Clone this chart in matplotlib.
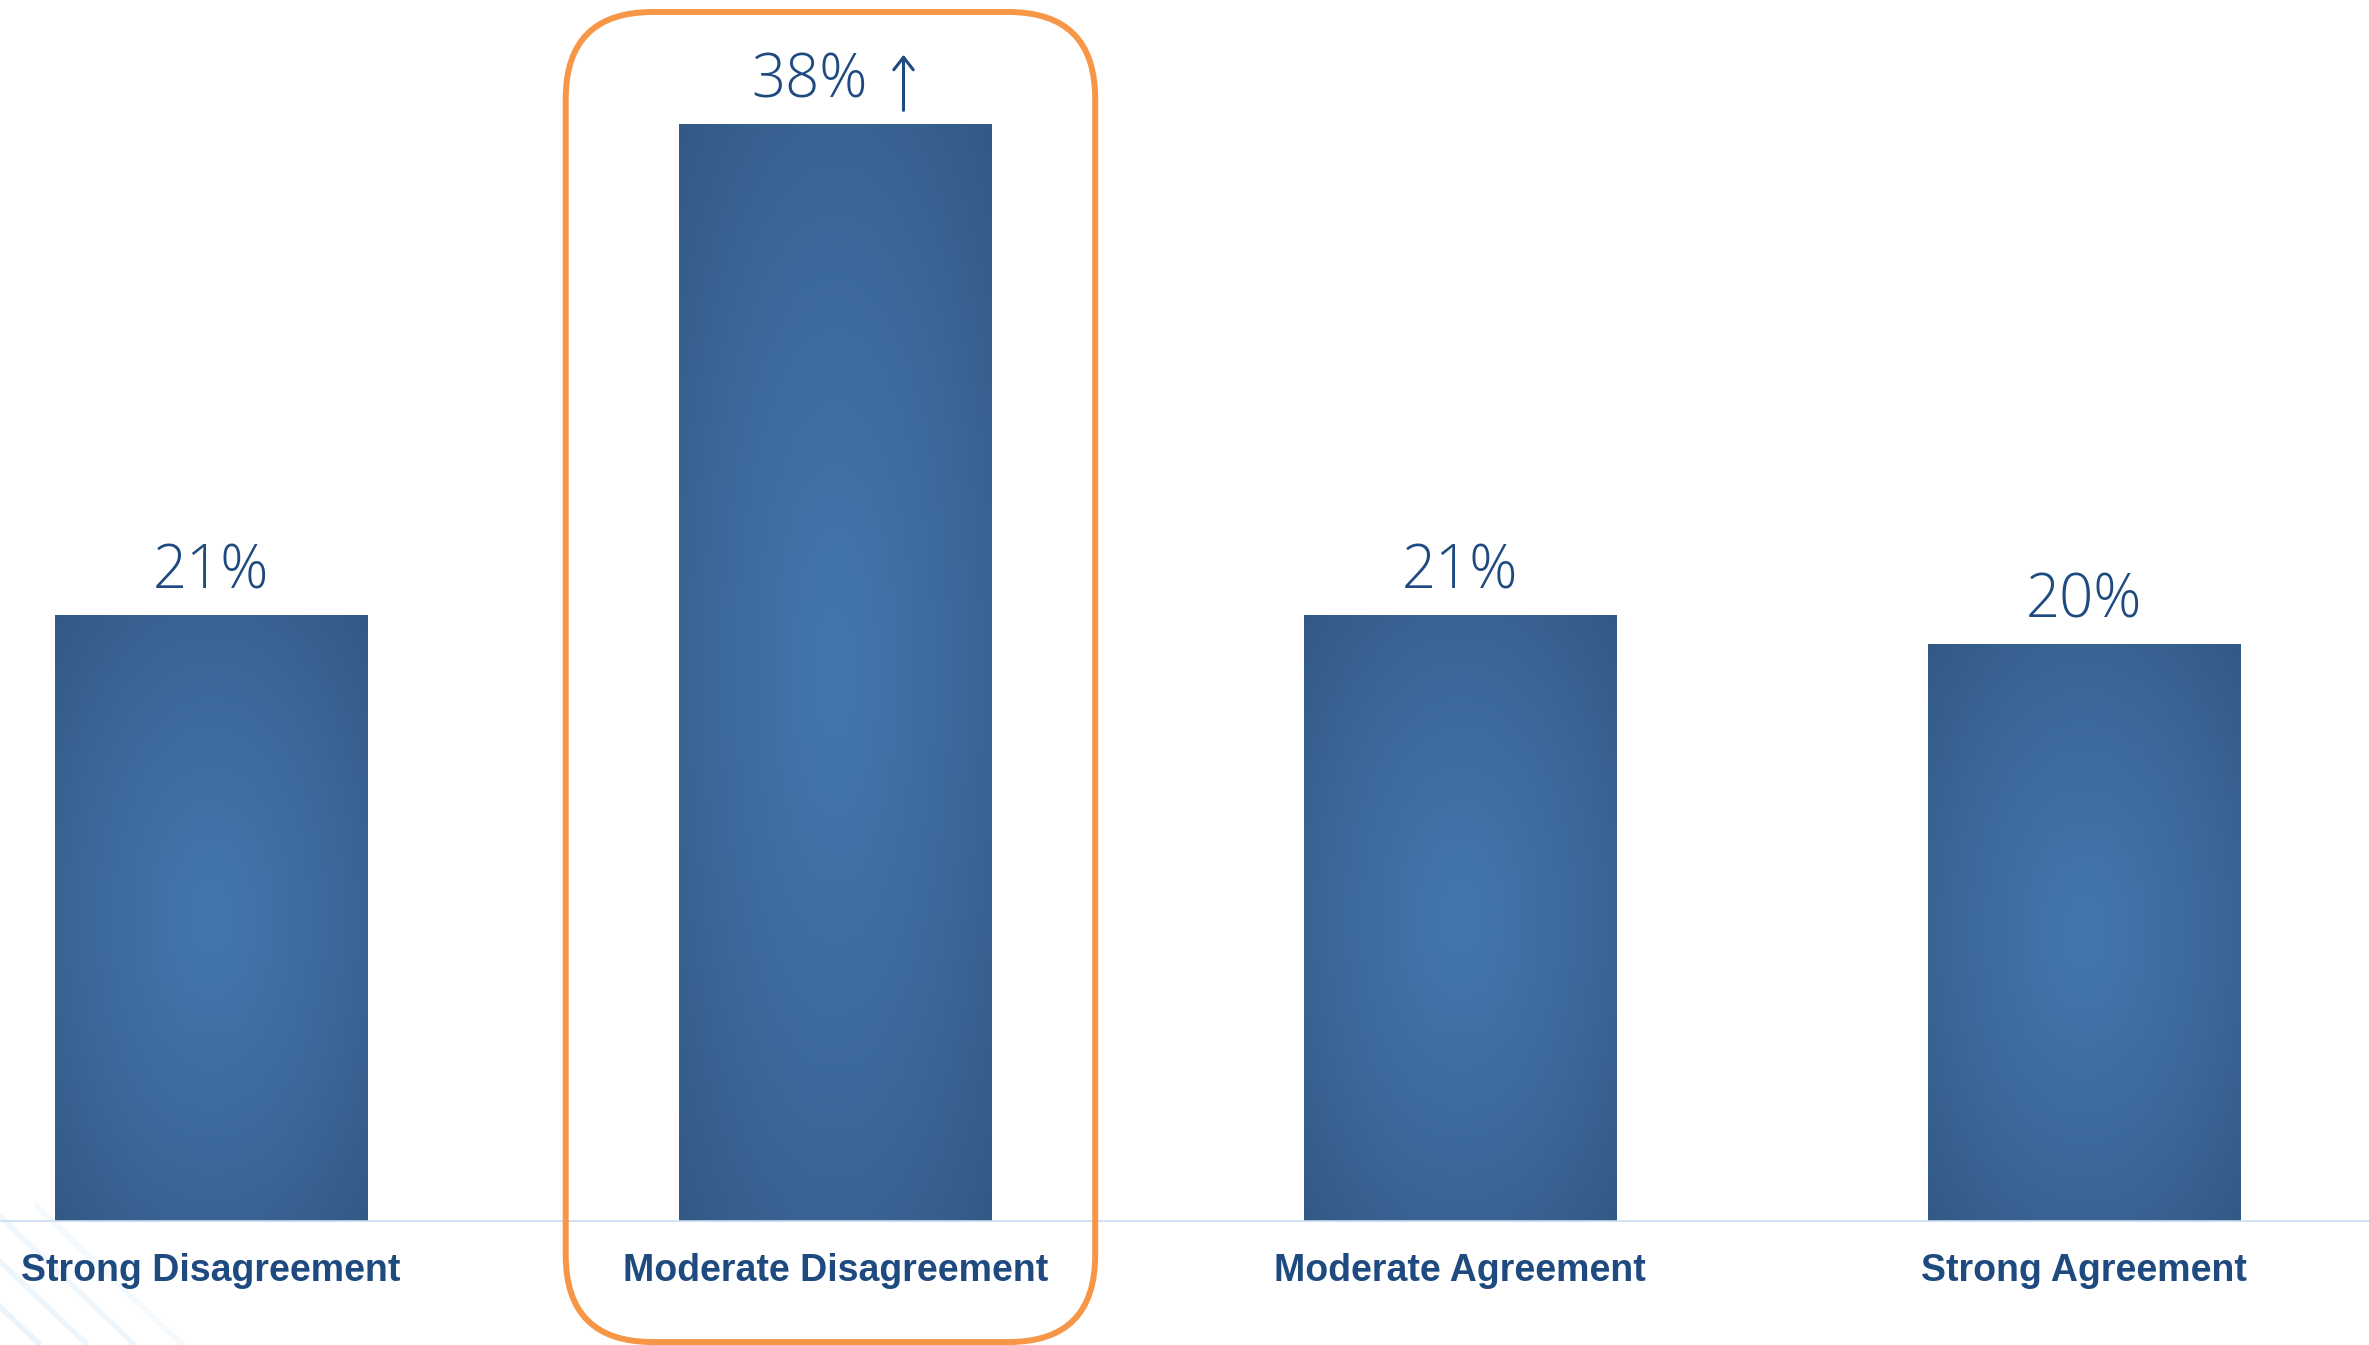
import numpy as np
import matplotlib
matplotlib.use("Agg")
import matplotlib.pyplot as plt
from matplotlib.patches import FancyBboxPatch
from matplotlib.lines import Line2D
from matplotlib.colors import to_rgb
from matplotlib.transforms import offset_copy
import matplotlib.patheffects as pe

# ---- data ----
categories = ["Strong Disagreement", "Moderate Disagreement",
              "Moderate Agreement", "Strong Agreement"]
values = [21, 38, 21, 20]
value_labels = ["21%", "38%", "21%", "20%"]
trend_marks = ["", "up", "", ""]
highlight_index = 1

# ---- style ----
TEXT_COLOR = "#1f4a7f"
CENTER_COLOR = "#4475ae"
EDGE_COLOR = "#335985"
ORANGE = "#f79646"
BAR_WIDTH = 0.5
Y_TOP = 42.3

fig = plt.figure(figsize=(23.69, 13.45), dpi=100)
fig.patch.set_facecolor("white")

# faint decorative diagonal pattern in the bottom-left corner
for k, x0 in enumerate([-0.045, -0.025, -0.005, 0.015]):
    fig.add_artist(Line2D([x0, x0 + 0.062], [0.104, 0.0], transform=fig.transFigure,
                          color="#e2f1fb", lw=4, alpha=0.75 - k * 0.12, zorder=0,
                          solid_capstyle="butt"))

ax = fig.add_axes([0, 0.0914, 1, 0.9086])
ax.axis("off")

x = np.arange(len(categories))
bars = ax.bar(x, values, width=BAR_WIDTH, color=EDGE_COLOR, zorder=2, linewidth=0)

# radial gradient fill for each bar
c0 = np.array(to_rgb(CENTER_COLOR))
c1 = np.array(to_rgb(EDGE_COLOR))
for b in bars:
    b.set_path_effects([pe.SimplePatchShadow(offset=(0, -1.5), shadow_rgbFace="#888888", alpha=0.35),
                        pe.Normal()])
    xl, w, h = b.get_x(), b.get_width(), b.get_height()
    ny, nx = 300, 120
    yy, xx = np.mgrid[-1:1:ny * 1j, -1:1:nx * 1j]
    r = np.clip(np.sqrt(xx ** 2 + yy ** 2) / np.sqrt(2), 0, 1)
    t = r ** 1.3
    img = c0[None, None, :] * (1 - t[..., None]) + c1[None, None, :] * t[..., None]
    im = ax.imshow(img, extent=[xl, xl + w, 0, h], aspect="auto", zorder=2.5,
                   interpolation="bilinear")
    im.set_clip_path(b)

ax.set_xlim(-0.338, 3.456)
ax.set_ylim(0, Y_TOP)

# baseline
ax.axhline(0, color="#cfdff2", lw=2.6, zorder=3)

# value labels (with optional trend arrow)
for xi, v, lab, tr in zip(x, values, value_labels, trend_marks):
    dx = -19 if tr else 0
    ax.annotate(lab, (xi, v), xytext=(dx, 19.5), textcoords="offset points",
                ha="center", va="baseline", fontsize=43, color=TEXT_COLOR,
                family=["Open Sans", "DejaVu Sans"], fontweight="light")
    if tr == "up":
        tip = offset_copy(ax.transData, fig=fig, x=49, y=50, units="points")
        tail = offset_copy(ax.transData, fig=fig, x=49, y=10, units="points")
        ax.annotate("", xy=(xi, v), xycoords=tip, xytext=(xi, v), textcoords=tail,
                    arrowprops=dict(arrowstyle="->,head_length=0.45,head_width=0.35",
                                    lw=2.2, color=TEXT_COLOR, shrinkA=0, shrinkB=0,
                                    mutation_scale=20))

# category labels
for xi, cat in zip(x, categories):
    ax.annotate(cat, (xi, 0), xytext=(0, -42.5), textcoords="offset points",
                ha="center", va="baseline", fontsize=27, color=TEXT_COLOR,
                family="Liberation Sans", fontweight="bold", annotation_clip=False)

# highlight box around the highlighted category
fig.canvas.draw()
p0 = ax.transData.transform((0, 0))
p1 = ax.transData.transform((1, 1))
px_x = p1[0] - p0[0]
px_y = p1[1] - p0[1]
radius_px = 87
half_w = 0.424
y_lo = -120 / px_y           # extends below the baseline
y_hi = Y_TOP - 12 / px_y     # just below the top edge
box = FancyBboxPatch((x[highlight_index] - half_w - 0.008, y_lo), 2 * half_w, y_hi - y_lo,
                     boxstyle=f"round,pad=0,rounding_size={radius_px / px_x}",
                     mutation_aspect=px_x / px_y,
                     facecolor="none", edgecolor=ORANGE, lw=4.3, zorder=4, clip_on=False)
ax.add_patch(box)

fig.savefig("out.png", dpi=100, facecolor="white")
